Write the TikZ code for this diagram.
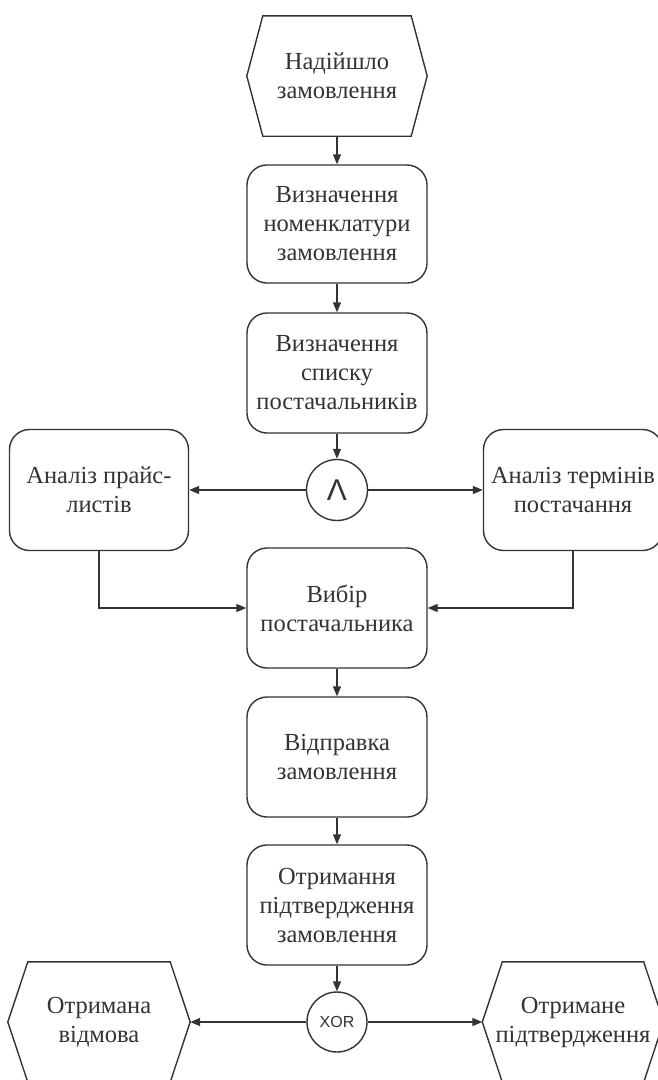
\documentclass[tikz,border=0pt]{standalone}
\usepackage{fontspec}
\setmainfont{Liberation Serif}
\newfontfamily\lsans{Liberation Sans}
\usetikzlibrary{arrows.meta}
\definecolor{ln}{HTML}{333333}
\definecolor{tx}{HTML}{333333}
\begin{document}
\begin{tikzpicture}[x=1pt,y=-1pt,
  every node/.style={text=tx, font=\fontsize{24.5}{29}\selectfont, align=center},
  fn/.style={draw=ln, line width=1.4pt, rounded corners=20pt, minimum width=180pt, minimum height=120pt, inner sep=0pt},
  ev/.style={minimum width=180pt, minimum height=120pt, inner sep=0pt},
  gate/.style={draw=ln, line width=1.4pt, circle, minimum size=61pt, inner sep=0pt},
  arr/.style={draw=ln, line width=1.4pt, -{Triangle[length=10pt,width=8pt]}},
  ln/.style={draw=ln, line width=1.4pt}]
\useasboundingbox (0,0) rectangle (658,1080);
\clip (0,0) rectangle (658,1080);
\fill[white] (0,0) rectangle (658,1080);

\node[ev] (h0) at (337,76) {Надійшло\\замовлення};
\draw[ln] ([xshift=16pt]h0.north west) -- ([xshift=-16pt]h0.north east) -- (h0.east) -- ([xshift=-16pt]h0.south east) -- ([xshift=16pt]h0.south west) -- (h0.west) -- cycle;

\node[fn, minimum height=118pt] (b1) at (337,224) {Визначення\\номенклатури\\замовлення};
\node[fn] (b2) at (337,373) {Визначення\\списку\\постачальників};
\node[gate] (and) at (337,490) {\lsans\fontsize{30}{30}\selectfont Λ};
\node[fn, minimum width=179pt, minimum height=121pt] (lb) at (99,490) {Аналіз прайс-\\листів};
\node[fn, minimum width=179pt, minimum height=121pt] (rb) at (573,490) {Аналіз термінів\\постачання};
\node[fn] (b3) at (337,608) {Вибір\\постачальника};
\node[fn] (b4) at (337,757) {Відправка\\замовлення};
\node[fn] (b5) at (337,905) {Отримання\\підтвердження\\замовлення};
\node[gate, minimum size=60pt] (xor) at (337,1022) {\lsans\fontsize{16}{16}\selectfont XOR};

\node[ev, minimum width=182pt] (lh) at (99,1022) {Отримана\\відмова};
\draw[ln] ([xshift=20pt]lh.north west) -- ([xshift=-20pt]lh.north east) -- (lh.east) -- ([xshift=-20pt]lh.south east) -- ([xshift=20pt]lh.south west) -- (lh.west) -- cycle;
\node[ev, minimum width=181pt] (rh) at (573,1022) {Отримане\\підтвердження};
\draw[ln] ([xshift=20pt]rh.north west) -- ([xshift=-20pt]rh.north east) -- (rh.east) -- ([xshift=-20pt]rh.south east) -- ([xshift=20pt]rh.south west) -- (rh.west) -- cycle;

\draw[arr] (h0.south) -- (b1.north);
\draw[arr] (b1.south) -- (b2.north);
\draw[arr] (b2.south) -- (and.north);
\draw[arr] (and.west) -- (lb.east);
\draw[arr] (and.east) -- (rb.west);
\draw[arr] (lb.south) |- (b3.west);
\draw[arr] (rb.south) |- (b3.east);
\draw[arr] (b3.south) -- (b4.north);
\draw[arr] (b4.south) -- (b5.north);
\draw[arr] (b5.south) -- (xor.north);
\draw[arr] (xor.west) -- (lh.east);
\draw[arr] (xor.east) -- (rh.west);
\end{tikzpicture}
\end{document}
